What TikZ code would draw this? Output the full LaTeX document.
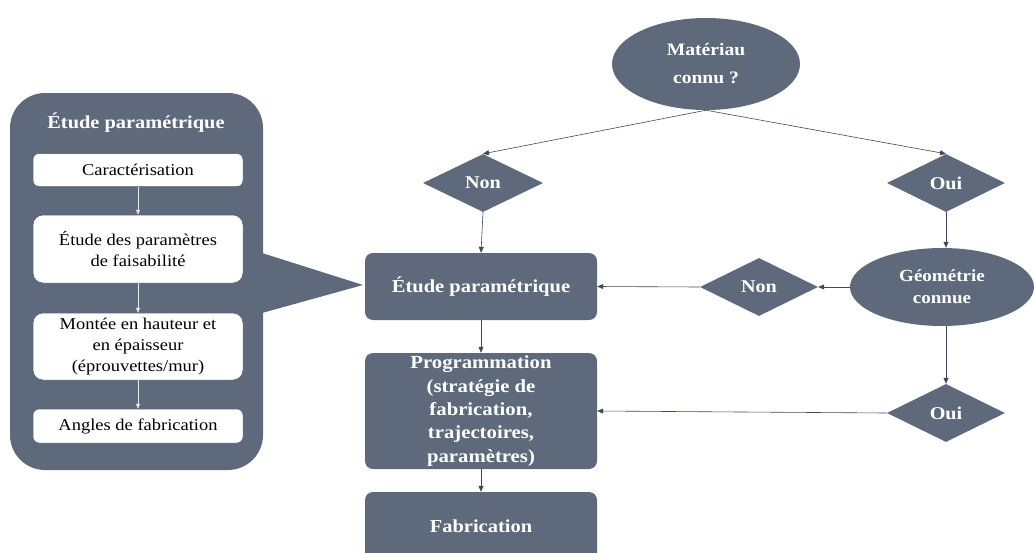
\documentclass[tikz,border=0pt]{standalone}
\usepackage{fontspec}
\setmainfont{Liberation Serif}[FakeStretch=1.12]
\usetikzlibrary{shapes.geometric,arrows.meta}
\definecolor{slate}{HTML}{5E6A7B}
\definecolor{linec}{HTML}{3E4858}
\definecolor{wborder}{HTML}{4A5A78}
\tikzset{
  every node/.style={inner sep=0pt},
  darkbox/.style={rectangle, rounded corners=8pt, fill=slate, text=white, font=\fontsize{18.3}{22}\selectfont\bfseries, minimum width=232pt, align=center},
  whitebox/.style={rectangle, rounded corners=6pt, fill=white, draw=wborder, line width=0.5pt, font=\fontsize{16.5}{21}\selectfont, minimum width=210pt, align=center},
  dec/.style={diamond, aspect=2, fill=slate, text=white, font=\fontsize{18}{20}\selectfont\bfseries, minimum width=118pt, minimum height=58pt},
  ell/.style={ellipse, fill=slate, text=white, font=\fontsize{17}{22}\selectfont\bfseries, align=center},
  arr/.style={draw=linec, line width=0.6pt, -{Triangle[length=6pt,width=5pt]}},
  warr/.style={draw=white!85!slate, line width=0.6pt, -{Triangle[length=5pt,width=4pt]}, fill=white}
}
\begin{document}
\begin{tikzpicture}[x=1pt,y=-1pt]
\useasboundingbox (0,0) rectangle (1034,552);
\clip (0,0) rectangle (1034,552);
% left panel
\node[rectangle, rounded corners=35pt, fill=slate, minimum width=253pt, minimum height=377pt] (panel) at (136.5,281.5) {};
\node[text=white, font=\fontsize{18.2}{20}\selectfont\bfseries] (ptitle) at (136,123) {Étude paramétrique};
\node[whitebox, minimum height=33pt] (c1) at (138,170) {Caractérisation};
\node[whitebox, minimum height=68pt, rounded corners=10pt] (c2) at (138,249) {Étude des paramètres\\de faisabilité};
\node[whitebox, minimum height=67pt, rounded corners=10pt] (c3) at (138,346.5) {Montée en hauteur et\\en épaisseur\\(éprouvettes/mur)};
\node[whitebox, minimum height=34pt] (c4) at (138,426) {Angles de fabrication};
\draw[warr] (c1) -- (c2);
\draw[warr] (c2) -- (c3);
\draw[warr] (c3) -- (c4);
% callout triangle
\coordinate (t1) at (262,253);
\coordinate (t2) at (262,313);
\coordinate (tip) at (363,285);
\fill[slate] (t1) -- (tip) -- (t2) -- cycle;
% main column
\node[darkbox, minimum height=67pt] (etude) at (481,286.5) {Étude paramétrique};
\node[darkbox, minimum height=116pt, font=\fontsize{18.5}{23.3}\selectfont\bfseries] (prog) at (481,411) {Programmation\\(stratégie de\\fabrication,\\trajectoires,\\paramètres)};
\node[darkbox, minimum height=76pt] (fab) at (481,530) {};
\node[text=white, font=\fontsize{18.3}{20}\selectfont\bfseries] (fabt) at (481,526) {Fabrication};
% decisions
\node[ell, minimum width=188pt, minimum height=92pt, font=\fontsize{17.5}{28}\selectfont\bfseries] (mat) at (706,64) {Matériau\\connu ?};
\node[dec, minimum width=120pt] (non1) at (483,183) {Non};
\node[dec] (oui1) at (946,183) {Oui};
\node[ell, minimum width=184pt, minimum height=78pt] (geo) at (942,287) {Géométrie\\connue};
\node[dec] (non2) at (759,287) {Non};
\node[dec] (oui2) at (946,413) {Oui};
% connectors
\draw[arr] (mat.south) -- (non1.north);
\draw[arr] (mat.south) -- (oui1.north);
\draw[arr] (non1.south) -- (etude.north);
\draw[arr] (oui1.south) -- (oui1.south |- geo.north);
\draw[arr] (geo.west) -- (non2.east);
\draw[arr] (non2.west) -- (etude.east);
\draw[arr] (geo.south -| oui2.north) -- (oui2.north);
\draw[arr] (oui2.west) -- (prog.east);
\draw[arr] (etude.south) -- (prog.north);
\draw[arr] (prog.south) -- (fab.north);
\end{tikzpicture}
\end{document}
